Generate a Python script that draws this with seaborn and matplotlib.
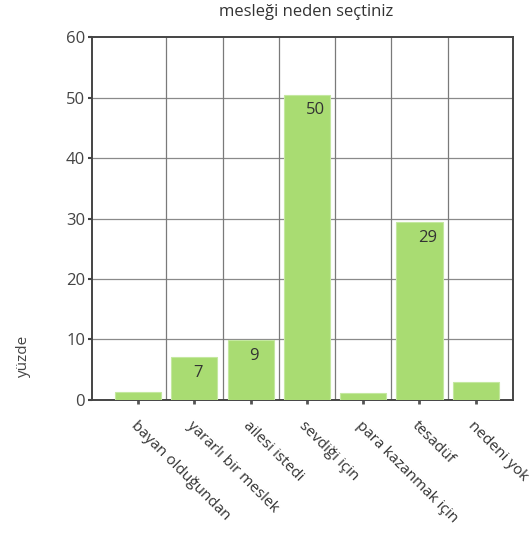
import matplotlib
matplotlib.use("Agg")
import matplotlib.pyplot as plt
import pandas as pd
import seaborn as sns

categories = ["bayan olduğundan", "yararlı bir meslek", "ailesi istedi",
              "sevdiği için", "para kazanmak için", "tesadüf", "nedeni yok"]
values = [1.3, 7.1, 9.9, 50.5, 1.1, 29.4, 3.0]
bar_labels = ["", "7", "9", "50", "", "29", ""]
y_ticks = [0, 10, 20, 30, 40, 50, 60]

sns.set_theme(style="white")
plt.rcParams["font.family"] = ["Open Sans", "DejaVu Sans"]

df = pd.DataFrame({"neden": categories, "yuzde": values})

fig = plt.figure(figsize=(5.32, 5.39), dpi=100)
ax = fig.add_axes([0.173, 0.258, 0.791, 0.673])

sns.barplot(data=df, x="neden", y="yuzde", color="#a9dc72", saturation=1,
            width=0.82, edgecolor="#c4e8a0", linewidth=0.8, ax=ax, zorder=3)

ax.set_ylim(0, 60)
ax.set_xlim(-0.82, len(categories) - 0.34)
ax.set_yticks(y_ticks)
ax.set_yticklabels([str(t) for t in y_ticks], fontsize=12, color="#444444")

# grid: horizontal at ticks, vertical between categories
for t in y_ticks[1:-1]:
    ax.axhline(t, color="#8a8a8a", lw=0.9, zorder=1)
for i in range(len(categories) - 1):
    ax.axvline(i + 0.5, color="#7a7a7a", lw=0.9, zorder=1)

for s in ax.spines.values():
    s.set_color("#444444")
    s.set_linewidth(1.4)

ax.tick_params(axis="y", length=3, width=1.5, color="#444444", pad=2, left=True)
ax.tick_params(axis="x", length=3, width=2, color="#555555", pad=10, bottom=True)
ax.set_xticks(range(len(categories)))
ax.set_xticklabels(categories, rotation=-45, ha="left", rotation_mode="anchor",
                   fontsize=11, color="#333333")

for i, (v, lab) in enumerate(zip(values, bar_labels)):
    if lab:
        ax.text(i - 0.02, v - 1.3, lab, ha="left", va="top",
                fontsize=12, color="#333333", zorder=4)

ax.set_xlabel("")
ax.set_ylabel("")
fig.text(0.045, 0.34, "yüzde", rotation=90, ha="center", va="center",
         fontsize=11, color="#444444")
fig.text(0.575, 0.978, "mesleği neden seçtiniz", ha="center", va="center",
         fontsize=12, color="#333333")

fig.savefig("out.png", dpi=100)
